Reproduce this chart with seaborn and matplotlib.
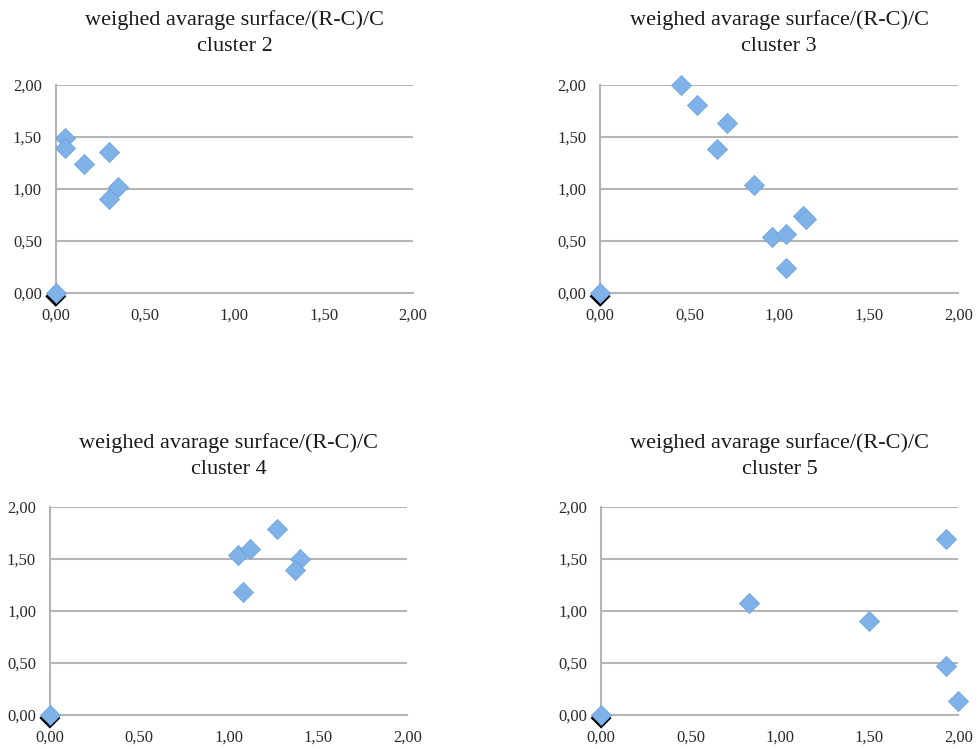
import matplotlib
matplotlib.use("Agg")
import matplotlib.pyplot as plt
import matplotlib.transforms as mtransforms
import seaborn as sns
from matplotlib.ticker import FuncFormatter, MultipleLocator

sns.set_style("white")
plt.rcParams["font.family"] = ["Liberation Serif", "DejaVu Serif"]

title_text = "weighed avarage surface/(R-C)/C"
cluster_names = ["cluster 2", "cluster 3", "cluster 4", "cluster 5"]

# values
c2_x = [0.05, 0.05, 0.16, 0.30, 0.30, 0.35]
c2_y = [1.49, 1.39, 1.24, 1.35, 0.90, 1.02]
c3_x = [0.45, 0.54, 0.71, 0.65, 0.86, 0.96, 1.04, 1.04, 1.13, 1.15]
c3_y = [2.00, 1.80, 1.63, 1.38, 1.04, 0.54, 0.57, 0.24, 0.74, 0.71]
c4_x = [1.05, 1.12, 1.27, 1.40, 1.37, 1.08]
c4_y = [1.54, 1.60, 1.79, 1.50, 1.39, 1.18]
c5_x = [0.83, 1.50, 1.93, 1.93, 2.00]
c5_y = [1.08, 0.90, 1.69, 0.47, 0.13]
origin_x = [0.0]
origin_y = [0.0]

clusters_x = [c2_x, c3_x, c4_x, c5_x]
clusters_y = [c2_y, c3_y, c4_y, c5_y]

# axes rectangles in figure fractions
positions = [
    [0.057, 0.609, 0.365, 0.278],
    [0.613, 0.609, 0.366, 0.278],
    [0.051, 0.046, 0.365, 0.277],
    [0.614, 0.046, 0.365, 0.277],
]

blue = "#80b2ea"
edge = "#6a9bd6"
grid_col = "#b5b5b5"
comma = FuncFormatter(lambda v, p: f"{v:.2f}".replace(".", ","))

fig = plt.figure(figsize=(9.79, 7.49), dpi=100)
shadow = mtransforms.ScaledTranslation(0, -2.5 / 72, fig.dpi_scale_trans)

for pos, name, xs, ys in zip(positions, cluster_names, clusters_x, clusters_y):
    ax = fig.add_axes(pos)
    # origin point: dark shadow diamond below the blue one
    sns.scatterplot(x=origin_x, y=origin_y, ax=ax, marker="D", s=115,
                    color="black", edgecolor="none", zorder=4, clip_on=False)
    ax.collections[-1].set_offset_transform(ax.transData + shadow)
    sns.scatterplot(x=origin_x, y=origin_y, ax=ax, marker="D", s=105,
                    color=blue, edgecolor=edge, linewidth=0.5, zorder=5, clip_on=False)
    sns.scatterplot(x=xs, y=ys, ax=ax, marker="D", s=105,
                    color=blue, edgecolor=edge, linewidth=0.5, zorder=5, clip_on=False)

    ax.set_xlim(0, 2)
    ax.set_ylim(0, 2)
    ax.xaxis.set_major_locator(MultipleLocator(0.5))
    ax.yaxis.set_major_locator(MultipleLocator(0.5))
    ax.xaxis.set_major_formatter(comma)
    ax.yaxis.set_major_formatter(comma)
    ax.grid(axis="y", color=grid_col, linewidth=1.5)
    ax.set_axisbelow(True)
    for s in ["top", "right"]:
        ax.spines[s].set_visible(False)
    for s in ["left", "bottom"]:
        ax.spines[s].set_color(grid_col)
        ax.spines[s].set_linewidth(1.5)
    ax.tick_params(axis="both", direction="out", length=4, width=1.3,
                   color=grid_col, labelsize=12, labelcolor="#2a2a2a")
    ax.tick_params(axis="y", pad=6)
    ax.tick_params(axis="x", pad=7)
    ax.set_title(title_text + "\n" + name, fontsize=16, color="#1a1a1a",
                 pad=24, linespacing=1.5)

fig.savefig("out.png", dpi=100, facecolor="white")
